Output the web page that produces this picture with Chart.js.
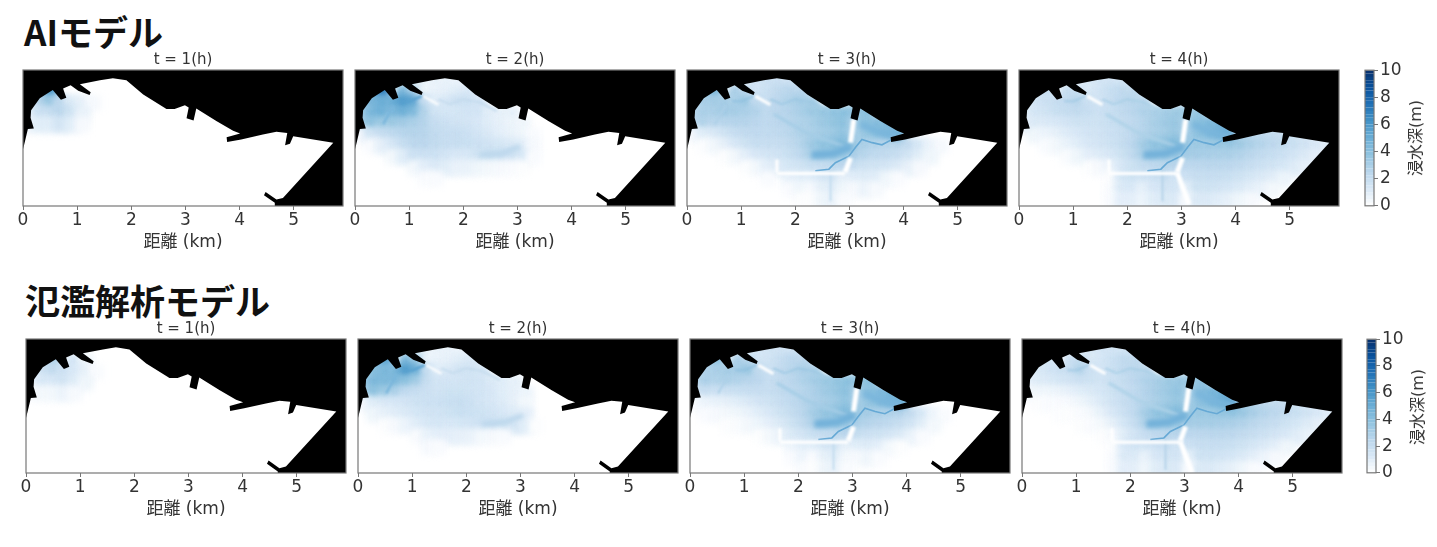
<!DOCTYPE html>
<html lang="ja">
<head>
<meta charset="utf-8" />
<title>浸水深</title>
<style>
    body { margin: 0; background: #fff; }
    canvas { position: absolute; filter: blur(0.4px); }
    .heading { position: absolute; font: bold 35px "Noto Sans CJK JP"; color: #111; line-height: 40px; white-space: nowrap; }
    .cbtitle { position: absolute; font: 16px "DejaVu Sans", "Noto Sans CJK JP"; color: #333; transform: translate(-50%, -50%) rotate(-90deg); white-space: nowrap; filter: blur(0.3px); }
</style>
</head>
<body>
<div class="heading" style="left:24px;top:11px">AIモデル</div>
<div class="heading" style="left:25px;top:280px">氾濫解析モデル</div>
<div class="cbtitle" style="left:1414px;top:138px">浸水深(m)</div>
<div class="cbtitle" style="left:1416px;top:407px">浸水深(m)</div>
<script src="https://cdn.jsdelivr.net/npm/chart.js@4.4.1/dist/chart.umd.js"></script>
<script>
// 時刻
const hours = [1, 2, 3, 4];
const xTicks = [0, 1, 2, 3, 4, 5];
const depthTicks = [0, 2, 4, 6, 8, 10];
const colorbarLevels = [0, 0.25, 0.5, 0.75, 1, 1.25, 1.5, 1.75, 2, 2.25, 2.5, 2.75, 3, 3.25, 3.5, 3.75, 4, 4.25, 4.5, 4.75, 5, 5.25, 5.5, 5.75, 6, 6.25, 6.5, 6.75, 7, 7.25, 7.5, 7.75, 8, 8.25, 8.5, 8.75, 9, 9.25, 9.5, 9.75, 10];

// 海 (黒) の輪郭 [x km, y km]
const seaOutline = [
    [0, 1.05], [0.03, 1.17], [0.09, 1.42], [0.2, 1.43], [0.14, 1.63], [0.15, 1.77], [0.31, 1.99], [0.55, 2.14],
    [0.7, 1.96], [0.8, 2.0], [0.74, 2.17], [0.88, 2.23], [1.02, 2.13], [1.23, 2.05], [1.25, 2.1], [1.05, 2.25], [1.42, 2.32],
    [1.66, 2.36], [1.91, 2.32], [2.22, 2.06], [2.65, 1.79], [2.8, 1.79], [2.99, 1.86], [3.06, 1.82], [3.02, 1.62],
    [3.15, 1.58], [3.2, 1.8], [3.57, 1.57], [3.88, 1.39], [4.01, 1.34], [3.76, 1.27], [3.77, 1.18], [4.03, 1.23],
    [4.43, 1.32], [4.68, 1.37], [4.88, 1.35], [4.84, 1.12], [4.93, 1.15], [4.99, 1.29], [5.73, 1.17], [4.8, 0.15],
    [4.68, 0.12], [4.48, 0.26], [4.45, 0.2], [4.65, 0.06], [4.65, 0], [5.92, 0], [5.92, 2.52], [0, 2.52]
];

// 川・道路
const riverMain = [[3.79, 1.23], [3.6, 1.13], [3.42, 1.17], [3.23, 1.23], [3.11, 1.08], [2.99, 0.92], [2.74, 0.8], [2.62, 0.68], [2.37, 0.65]];
const riverPatch = [[2.3, 0.94], [2.7, 0.97], [3.05, 1.1]];
const riverNorth = [[1.54, 1.97], [1.75, 1.88], [2.0, 1.97], [2.31, 1.91], [2.62, 1.75]];
const riverInlet = [[0.83, 1.94], [1.0, 1.93], [1.23, 2.03]];
const riverWest = [[0.71, 1.85], [0.52, 1.51]];
const riverSouth = [[2.65, 0.68], [2.65, 0.09]];
const riverDiag = [[1.6, 1.7], [2.2, 1.35], [2.9, 1.1]];
const riverEast = [[3.2, 1.5], [3.6, 1.35], [3.95, 1.27]];
const roadA = [[3.08, 1.6], [3.02, 1.17]];
const roadB = [[3.02, 0.89], [2.92, 0.62]];
const roadC = [[1.66, 0.6], [2.92, 0.6]];
const roadD = [[1.66, 0.86], [1.66, 0.62]];
const roadE = [[2.92, 0.62], [3.14, 0.03]];
const roadF = [[1.26, 2.03], [1.54, 1.87]];

// 浸水深 (m)。行は y = 2.3, 2.1, ... 0.1 km、列は x = 0.1, 0.3, ... km
const aiT1 = [
    [],
    [0, 2.5, 6, 0, 0, 0],
    [0, 2.4, 3.6, 2.4, 1.2, 0.8, 0.3],
    [0.5, 1.8, 2, 2.5, 1.7, 0.7],
    [0.6, 1, 1, 1.5, 1, 0.3]
];
const aiT2 = [
    [0, 0, 0, 0, 0, 0, 0.5, 0.7, 0.7, 0.6],
    [0, 3.8, 7, 0, 4.5, 3, 0.5, 0.7, 0.8, 1, 1.2],
    [0, 4.5, 5, 5, 6, 5.5, 2, 1, 1.3, 1.8, 1.8, 1.5],
    [3, 4.5, 5, 4.5, 5, 4.5, 2.8, 1.6, 1.4, 1.4, 1.5, 1.5, 1, 0.8, 0.8],
    [3, 4, 3.5, 3.5, 3.3, 3, 2.7, 2, 1.8, 1.6, 1.5, 1.3, 1, 0.8, 0.6, 0.5],
    [0.3, 1.5, 2, 2.3, 2.6, 2.7, 2.6, 2.2, 2, 2, 1.8, 1.5, 1.2, 0.9, 0.7, 0.5, 0.2],
    [0, 0.2, 0.8, 1.3, 2, 2.4, 2.5, 2.2, 2, 2, 1.9, 1.8, 1.6, 1.4, 1.2, 1, 0.3],
    [0, 0, 0, 0.4, 1, 1.8, 1.8, 1.8, 1.5, 1.3, 1.3, 1.7, 1.9, 1.9, 1.8, 1.4, 0.2],
    [0, 0, 0, 0, 0, 0.4, 0.9, 1.2, 1, 0.7, 0.7, 0.5, 0.4, 0.3, 0.2, 0.1],
    [0, 0, 0, 0, 0, 0, 0.2, 0.2]
];
const aiT3 = [
    [0, 0, 0, 0, 0, 0, 1.5, 1.8, 1.8, 1.6],
    [0, 3, 4.5, 0, 3, 2.5, 1.5, 1.8, 2.2, 2.5, 2.5],
    [0, 3, 3.2, 3.2, 3, 3.5, 2.2, 2, 2.5, 2.8, 3.2, 3.2],
    [2.5, 3, 3, 3.3, 3.2, 3, 2.8, 2.3, 2.5, 2.7, 3, 3.4, 3.6, 3.8, 4, 4, 4],
    [2.5, 2.8, 2.6, 2.6, 2.7, 2.7, 2.5, 2.3, 2.4, 2.6, 2.8, 3, 3.4, 3.7, 4, 3, 4, 4.2, 4.4],
    [0.3, 1, 1.2, 1.6, 2, 2.2, 2.3, 2.2, 2.3, 2.5, 2.8, 3, 3.2, 3.4, 3.8, 3, 3.5, 4, 4.5, 5],
    [0, 0.1, 0.4, 0.8, 1.3, 1.7, 2, 2, 2, 2.2, 2.6, 3.3, 3.8, 4, 4.5, 3.5, 3, 2.8, 2.6, 2.6, 2.2, 1.4, 0.7, 0.3],
    [0, 0, 0, 0.1, 0.4, 0.9, 1.3, 1.5, 1.6, 1.9, 2.3, 3, 3.5, 3.5, 3.5, 3, 2.6, 2.3, 2.2, 2, 1.6, 1, 0.5],
    [0, 0, 0, 0, 0, 0.1, 0.4, 0.9, 1.1, 1.4, 1.6, 1.9, 2, 2.2, 2.4, 2, 1.7, 1.6, 1.5, 1.2, 0.8, 0.3],
    [0, 0, 0, 0, 0, 0, 0, 0.2, 0, 0.8, 1, 1, 1.4, 1.6, 0.8, 1, 1.1, 1, 0.5, 0.2],
    [0, 0, 0, 0, 0, 0, 0, 0, 0, 0.2, 0.5, 0.3, 0.8, 1, 0.5, 0.3, 0.6, 0.3],
    [0, 0, 0, 0, 0, 0, 0, 0, 0, 0, 0.1, 0.1, 0.5, 0.7, 0.2]
];
const aiT4 = [
    [0, 0, 0, 0, 0, 0, 1.2, 1.5, 1.5, 1.4],
    [0, 1.5, 2, 0, 2, 2, 1.2, 1.5, 1.9, 2.2, 2.2],
    [0, 1.5, 1.8, 2, 2.2, 2.6, 1.8, 1.6, 2, 2.4, 2.6, 2.6],
    [1, 1.4, 1.6, 1.9, 2.1, 2.2, 2, 1.8, 1.9, 2.2, 2.5, 2.8, 3, 3.2, 3.4, 3.5, 3.6],
    [0.8, 1.2, 1.2, 1.3, 1.5, 1.7, 1.7, 1.7, 1.9, 2.1, 2.3, 2.6, 3, 3.3, 3.6, 3, 4, 4.4, 4.6],
    [0, 0.5, 0.6, 0.8, 1.1, 1.3, 1.5, 1.6, 1.8, 2, 2.3, 2.7, 3, 3.2, 3.6, 3, 3.8, 4.4, 5, 5.5, 2.6, 2.4, 2.2, 2.1, 2, 1.5, 1.2],
    [0, 0, 0.2, 0.4, 0.7, 1, 1.3, 1.5, 1.7, 2, 2.4, 3.2, 3.8, 4, 4.5, 3.6, 3.4, 3.4, 3.5, 3.6, 3.4, 3, 2.7, 2.4, 2.2, 1.9, 1.6, 1.3, 1.1],
    [0, 0, 0, 0, 0.2, 0.5, 0.9, 1.1, 1.3, 1.7, 2.2, 3, 3.4, 3.4, 3.6, 3.2, 3.2, 3.1, 3, 3, 2.8, 2.5, 2.2, 2, 1.8, 1.5, 1.2, 0.9],
    [0, 0, 0, 0, 0, 0, 0.1, 0.3, 0.6, 1.3, 1.7, 2.1, 2.3, 2.5, 2.6, 2.4, 2.4, 2.5, 2.5, 2.4, 2.3, 2, 1.8, 1.6, 1.4, 1.1, 0.8],
    [0, 0, 0, 0, 0, 0, 0, 0, 0.1, 1.4, 1.7, 1.6, 1.8, 2, 1.6, 1.8, 2, 2, 2, 1.9, 1.7, 1.4, 1.2, 1, 0.6],
    [0, 0, 0, 0, 0, 0, 0, 0, 0.2, 1.2, 1.3, 0.8, 1.3, 1.5, 1.5, 0.8, 1.7, 1.7, 1.6, 1.4, 1.2, 0.9, 0.7, 0.4],
    [0, 0, 0, 0, 0, 0, 0, 0, 0.2, 0.9, 0.9, 0.6, 1, 1.2, 1.2, 0.3, 1.2, 1.2, 1, 0.8, 0.5, 0.3]
];
const simT1 = [
    [],
    [0, 1.5, 2.8, 0, 1.5, 0.5],
    [0, 1.6, 2.2, 1.8, 1.3, 0.8, 0.2],
    [0.6, 1.3, 1.3, 1.6, 1.1, 0.5],
    [0.2, 0.4, 0.4, 0.6, 0.3]
];
const simT2 = [
    [0, 0, 0, 0, 0, 0, 0.5, 0.7, 0.7, 0.6],
    [0, 3.5, 5.5, 0, 4.5, 3.5, 0.6, 0.7, 0.8, 1, 1.2],
    [0, 4, 4.5, 4.5, 6, 5, 2, 1, 1.2, 1.6, 1.6, 1.4],
    [3.5, 4.5, 4.5, 4.5, 4, 3.3, 2, 1.5, 1.5, 1.5, 1.6, 1.5, 1.2, 1, 0.8],
    [3, 4, 3.5, 3, 2.3, 2, 1.8, 1.6, 1.7, 1.7, 1.6, 1.5, 1.3, 1, 0.8, 0.6],
    [0.3, 1, 1.2, 1.3, 1.5, 1.7, 1.8, 1.8, 1.9, 2, 1.8, 1.5, 1.3, 1.1, 0.8, 0.4],
    [0, 0.5, 0.8, 1, 1.2, 1.4, 1.6, 1.6, 1.7, 1.9, 1.8, 1.7, 1.5, 1.3, 1.1, 0.9],
    [0, 0, 0.1, 0.3, 0.6, 1, 1.3, 1.4, 1.3, 1.4, 1.5, 1.8, 1.8, 1.7, 1.5, 1, 0.1],
    [0, 0, 0, 0, 0, 0.2, 0.7, 0.9, 0.9, 0.8, 0.7, 0.4, 0.3, 0.2],
    [0, 0, 0, 0, 0, 0, 0.3, 0.2]
];
const simT3 = [
    [0, 0, 0, 0, 0, 0, 1.3, 1.6, 1.6, 1.5],
    [0, 2.8, 3.8, 0, 3, 2.6, 1.4, 1.6, 2, 2.4, 2.4],
    [0, 2.8, 3, 3.2, 3.2, 3.6, 2.2, 1.8, 2.2, 2.6, 3, 3],
    [2.4, 3, 2.8, 3, 2.8, 2.6, 2.4, 2, 2.2, 2.5, 2.8, 3.2, 3.5, 3.7, 4, 4, 4],
    [1.6, 2, 1.8, 1.8, 1.9, 2, 2, 2, 2.2, 2.4, 2.6, 2.9, 3.3, 3.6, 4, 3, 4, 4.4, 4.6],
    [0.2, 0.6, 0.7, 0.8, 1, 1.2, 1.5, 1.7, 2, 2.3, 2.6, 2.9, 3.1, 3.3, 3.8, 3, 3.6, 4.2, 4.8, 5.2],
    [0, 0.2, 0.3, 0.4, 0.5, 0.7, 1, 1.3, 1.7, 2.1, 2.5, 3.2, 3.7, 3.9, 4.5, 3.5, 3.2, 3, 2.8, 2.7, 2.2, 1.4, 0.6, 0.2],
    [0, 0, 0, 0.1, 0.2, 0.4, 0.6, 0.9, 1.2, 1.7, 2.2, 2.9, 3.4, 3.4, 3.6, 3, 2.7, 2.5, 2.3, 2, 1.6, 1, 0.4],
    [0, 0, 0, 0, 0, 0, 0.1, 0.4, 0.7, 1.2, 1.5, 1.9, 2.1, 2.3, 2.5, 2.1, 1.8, 1.7, 1.5, 1.2, 0.7, 0.2],
    [0, 0, 0, 0, 0, 0, 0, 0, 0, 0.6, 1, 1, 1.4, 1.6, 0.8, 1, 1.1, 0.9, 0.4, 0.1],
    [0, 0, 0, 0, 0, 0, 0, 0, 0, 0.2, 0.6, 0.2, 0.8, 1, 0.4, 0.3, 0.5, 0.2],
    [0, 0, 0, 0, 0, 0, 0, 0, 0, 0, 0.2, 0.1, 0.5, 0.7, 0.2]
];
const simT4 = [
    [0, 0, 0, 0, 0, 0, 1.2, 1.5, 1.5, 1.4],
    [0, 1.2, 1.4, 0, 1.8, 2.2, 1.2, 1.4, 1.8, 2.2, 2.2],
    [0, 1.2, 1.5, 1.8, 2, 2.8, 1.8, 1.5, 1.9, 2.3, 2.5, 2.5],
    [0.9, 1.1, 1.2, 1.4, 1.6, 1.8, 1.7, 1.6, 1.8, 2.1, 2.4, 2.8, 3.1, 3.4, 3.6, 3.6, 3.8],
    [0.3, 0.5, 0.5, 0.6, 0.8, 1, 1.2, 1.4, 1.7, 2, 2.3, 2.7, 3.1, 3.4, 3.8, 3, 4.2, 4.6, 4.8],
    [0, 0.1, 0.2, 0.2, 0.3, 0.5, 0.8, 1.2, 1.6, 2, 2.3, 2.7, 3, 3.3, 3.7, 3, 3.9, 4.5, 5.2, 5.8, 2.8, 2.5, 2.2, 2.1, 2, 1.5, 1.2],
    [0, 0, 0, 0.1, 0.1, 0.2, 0.4, 0.8, 1.3, 1.8, 2.3, 3.2, 3.8, 4, 4.5, 3.6, 3.5, 3.5, 3.7, 3.8, 3.6, 3.1, 2.7, 2.4, 2.2, 1.9, 1.6, 1.3, 1.1],
    [0, 0, 0, 0, 0, 0.1, 0.2, 0.4, 0.8, 1.4, 2, 2.9, 3.4, 3.4, 3.6, 3.2, 3.2, 3.2, 3.1, 3, 2.8, 2.5, 2.2, 2, 1.7, 1.4, 1.1, 0.8],
    [0, 0, 0, 0, 0, 0, 0, 0.1, 0.3, 1, 1.5, 2, 2.3, 2.5, 2.6, 2.4, 2.4, 2.5, 2.5, 2.4, 2.2, 2, 1.8, 1.5, 1.3, 1, 0.7],
    [0, 0, 0, 0, 0, 0, 0, 0, 0.1, 1.3, 1.6, 1.6, 1.8, 2, 1.6, 1.8, 2, 2, 2, 1.9, 1.7, 1.4, 1.2, 0.9, 0.5],
    [0, 0, 0, 0, 0, 0, 0, 0, 0.2, 1.2, 1.2, 0.7, 1.3, 1.5, 1.5, 0.7, 1.7, 1.7, 1.6, 1.4, 1.2, 0.9, 0.6, 0.3],
    [0, 0, 0, 0, 0, 0, 0, 0, 0.2, 0.9, 0.9, 0.5, 1, 1.2, 1.2, 0.2, 1.2, 1.2, 1, 0.8, 0.5, 0.2]
];

// Blues カラーマップ
const blueStops = [[0, 255, 255, 255], [1.25, 216, 232, 246], [2.5, 186, 214, 236], [3.75, 146, 196, 224], [5, 107, 174, 214], [6.25, 66, 146, 198], [7.5, 33, 113, 181], [8.75, 8, 81, 156], [10, 8, 48, 107]];
function blues(v) {
    let i = 0;
    while (i < blueStops.length - 2 && v > blueStops[i + 1][0]) i++;
    const a = blueStops[i], b = blueStops[i + 1];
    const t = Math.min(1, Math.max(0, (v - a[0]) / (b[0] - a[0])));
    return `rgb(${[1, 2, 3].map(k => Math.round(a[k] + (b[k] - a[k]) * t)).join(',')})`;
}

const toXY = pts => pts.map(p => ({ x: p[0], y: p[1] }));

function cells(grid) {
    const out = [];
    grid.forEach((row, r) => row.forEach((v, c) => {
        if (v > 0) out.push({ x: 0.1 + c * 0.2, y: 2.3 - r * 0.2, v: v });
    }));
    return out;
}

// ぼかしと枠線
const framePlugin = {
    id: 'frame',
    beforeDatasetDraw(chart, args) {
        const b = chart.data.datasets[args.index].blurPx;
        if (b) chart.ctx.filter = `blur(${b}px)`;
    },
    afterDatasetDraw(chart) {
        chart.ctx.filter = 'none';
    },
    afterDraw(chart) {
        const a = chart.chartArea, ctx = chart.ctx;
        ctx.save();
        ctx.strokeStyle = '#777';
        ctx.lineWidth = 1.2;
        ctx.strokeRect(a.left, a.top, a.width, a.height);
        ctx.restore();
    }
};

Chart.defaults.font.family = '"DejaVu Sans", "Noto Sans CJK JP"';
Chart.defaults.color = '#333';
Chart.defaults.animation = false;

function addCanvas(left, top, w, h) {
    const cv = document.createElement('canvas');
    cv.width = w;
    cv.height = h;
    cv.style.left = left + 'px';
    cv.style.top = top + 'px';
    document.body.appendChild(cv);
    return cv;
}

function panel(left, top, w, h, yMin, hour, grid, lines) {
    const cv = addCanvas(left - 20, top - 26, w + 40, h + 26 + 50);
    const datasets = [{
        data: toXY(seaOutline), showLine: true, fill: 'shape', backgroundColor: '#000',
        borderWidth: 0, pointRadius: 0
    }];
    lines.forEach(l => datasets.push({
        data: toXY(l[0]), showLine: true, borderColor: l[1], borderWidth: l[2],
        pointRadius: 0, blurPx: l[3], fill: false
    }));
    datasets.push({
        data: cells(grid), pointStyle: 'rect', pointRadius: 11, pointBorderWidth: 0,
        backgroundColor: c => blues(c.raw.v), blurPx: 3
    });
    new Chart(cv, {
        type: 'scatter',
        data: { datasets: datasets },
        plugins: [framePlugin],
        options: {
            responsive: false,
            events: [],
            layout: { padding: { left: 20, right: 20, top: 7, bottom: 0 } },
            plugins: {
                legend: { display: false },
                tooltip: { enabled: false },
                title: { display: true, text: `t = ${hour}(h)`, font: { size: 15, weight: 'normal' }, padding: { top: 0, bottom: 1 } }
            },
            scales: {
                x: {
                    type: 'linear', min: 0, max: w / 54.15,
                    afterFit: s => { s.height = 50; },
                    afterBuildTicks: s => { s.ticks = xTicks.map(v => ({ value: v })); },
                    border: { display: false },
                    grid: { drawOnChartArea: false, tickLength: 4, color: '#777' },
                    ticks: { font: { size: 17 }, padding: 0, maxRotation: 0, autoSkip: false },
                    title: { display: true, text: '距離 (km)', font: { size: 17 }, padding: { top: 0, bottom: 3 } }
                },
                y: { type: 'linear', min: yMin, max: yMin + h / 54.15, display: false }
            }
        }
    });
}

function colorbar(left, top, h) {
    const cv = addCanvas(left - 2, top - 12, 60, h + 24);
    new Chart(cv, {
        type: 'scatter',
        data: {
            datasets: [{
                data: colorbarLevels.map(v => ({ x: 0.5, y: v })),
                showLine: true, borderWidth: 9, borderCapStyle: 'butt', pointRadius: 0,
                segment: { borderColor: c => blues((c.p0.parsed.y + c.p1.parsed.y) / 2) }
            }]
        },
        plugins: [framePlugin],
        options: {
            responsive: false,
            events: [],
            layout: { padding: { left: 2, right: 19, top: 12, bottom: 12 } },
            plugins: { legend: { display: false }, tooltip: { enabled: false } },
            scales: {
                x: { type: 'linear', min: 0, max: 1, display: false },
                y: {
                    position: 'right', min: 0, max: 10,
                    afterFit: s => { s.width = 30; },
                    afterBuildTicks: s => { s.ticks = depthTicks.map(v => ({ value: v })); },
                    border: { display: false },
                    grid: { drawOnChartArea: false, tickLength: 4, color: '#777' },
                    ticks: { font: { size: 17 }, padding: 2 }
                }
            }
        }
    });
}

// [座標, 色, 線幅, ぼかし]
const styleT2 = [[riverInlet, '#5aa2d0', 2.5, 1], [riverWest, '#7ab6dc', 2.5, 1], [riverNorth, '#c6dcee', 2, 1], [riverPatch, '#bcd7ec', 5, 2], [roadF, '#fff', 2, 0.8]];
const styleT3 = [[roadA, '#fff', 5, 0.8], [roadB, '#fff', 5, 0.8], [roadC, '#fff', 3, 1], [roadD, '#fff', 3, 1], [roadF, '#fff', 3, 0.8],
    [riverMain, '#66a9d5', 1.6, 0.6], [riverPatch, '#74b2da', 8, 2], [riverNorth, '#9cc8e3', 1.6, 0.8], [riverInlet, '#8fc0df', 1.6, 0.8], [riverSouth, '#c3dcef', 2, 1],
    [riverDiag, '#a5cde6', 3, 1.5], [riverWest, '#aed0e8', 2, 1], [riverEast, '#7ab6dc', 7, 2.5]];
const styleT4 = [[roadA, '#fff', 5, 0.8], [roadB, '#fff', 5, 0.8], [roadE, '#fff', 5, 0.8], [roadC, '#fff', 3, 1], [roadD, '#fff', 3, 1], [roadF, '#fff', 3, 0.8],
    [riverMain, '#66a9d5', 1.6, 0.6], [riverPatch, '#74b2da', 8, 2], [riverNorth, '#a8cfe6', 1.6, 0.8], [riverInlet, '#a0c9e4', 1.6, 0.8], [riverSouth, '#b5d3e9', 2, 1],
    [riverDiag, '#aed2e8', 3, 1.5], [riverEast, '#7ab6dc', 7, 2.5]];
const styles = [[], styleT2, styleT3, styleT4];

const aiRuns = [aiT1, aiT2, aiT3, aiT4];
const simRuns = [simT1, simT2, simT3, simT4];
const aiLefts = [23.3, 355, 687, 1019];
const simLefts = [26, 358.3, 690, 1022];

hours.forEach((t, i) => {
    panel(aiLefts[i], 69.5, 320, 136, 0, t, aiRuns[i], styles[i]);
    panel(simLefts[i], 339, 320, 134.5, 0.03, t, simRuns[i], styles[i]);
});
colorbar(1365, 69.5, 136);
colorbar(1367, 339, 134.5);
</script>
</body>
</html>
